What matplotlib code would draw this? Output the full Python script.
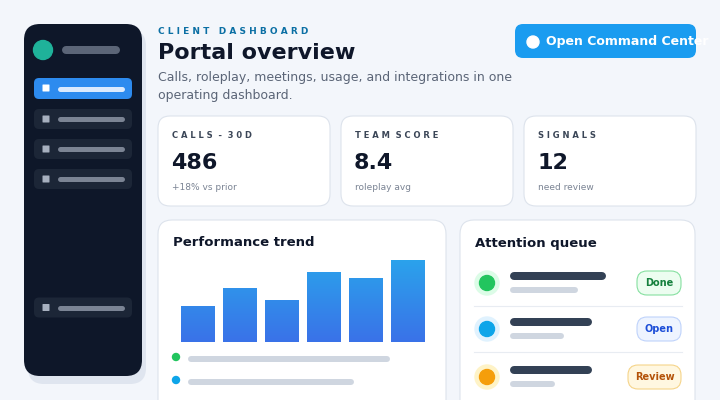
import matplotlib.pyplot as plt
from matplotlib.patches import FancyBboxPatch, Circle
import numpy as np

# data
bar_heights = [36, 54, 42, 70, 64, 82]
kpi_labels = ["CALLS - 30D", "TEAM SCORE", "SIGNALS"]
kpi_values = ["486", "8.4", "12"]
kpi_notes = ["+18% vs prior", "roleplay avg", "need review"]
queue_colors = ["#22c55e", "#0ea5e9", "#f59e0b"]
queue_halo = ["#dcfce7", "#e0f2fe", "#fef3c7"]
pill_text = ["Done", "Open", "Review"]
pill_fg = ["#15803d", "#1d4ed8", "#b45309"]
pill_bg = ["#ecfdf0", "#eef4ff", "#fff7e0"]
pill_edge = ["#86e0a0", "#bfd3fb", "#f5d48a"]

fig = plt.figure(figsize=(7.2, 4.0), dpi=100)
ax = fig.add_axes([0, 0, 1, 1])
ax.set_xlim(0, 720)
ax.set_ylim(400, 0)
ax.axis("off")
fig.patch.set_facecolor("#f3f6fb")

def rbox(x0, y0, x1, y1, r, fc, ec="none", lw=0, z=1):
    p = FancyBboxPatch((x0 + r, y0 + r), x1 - x0 - 2 * r, y1 - y0 - 2 * r,
                       boxstyle="round,pad=%g" % r, fc=fc, ec=ec, lw=lw, zorder=z,
                       mutation_aspect=1)
    ax.add_patch(p)
    return p

def rline(x0, x1, y, c, w=8, z=3):
    ax.plot([x0 + w / 2, x1 - w / 2], [y, y], color=c, lw=w * 0.72,
            solid_capstyle="round", zorder=z)

# sidebar
rbox(28, 30, 146, 384, 16, "#dfe5ef", z=0)
rbox(24, 24, 142, 376, 16, "#0e1729", z=1)
ax.add_patch(Circle((43, 50), 9.5, color="#1fb29a", zorder=2))
rline(62, 120, 50, "#5b6577", 8)
rbox(34, 78, 132, 99, 5, "#2d8bef", z=2)
ax.add_patch(FancyBboxPatch((43, 85), 6, 6, boxstyle="round,pad=0.5", fc="white", ec="none", zorder=3))
rline(57, 124, 88.5, "#dbeafe", 5)
for y in [119, 149, 179, 307.5]:
    rbox(34, y - 10, 132, y + 10, 5, "#1c2637", z=2)
    ax.add_patch(FancyBboxPatch((43, y - 3), 6, 6, boxstyle="round,pad=0.5", fc="#a7b0bf", ec="none", zorder=3))
    rline(57, 124, y, "#7b8494", 5)

# header
ax.text(158, 31, "C L I E N T   D A S H B O A R D", fontsize=6.5, fontweight="bold", color="#0b6fa4", va="center")
ax.text(158, 53, "Portal overview", fontsize=16, fontweight="bold", color="#0f172a", va="center")
ax.text(158, 78, "Calls, roleplay, meetings, usage, and integrations in one", fontsize=9, color="#5b6577", va="center")
ax.text(158, 95, "operating dashboard.", fontsize=9, color="#5b6577", va="center")

rbox(515, 24, 696, 58, 8, "#1a9cf0", z=2)
ax.add_patch(Circle((533, 42), 6, color="white", zorder=3))
ax.text(546, 42, "Open Command Center", fontsize=9, fontweight="bold", color="white", va="center", zorder=3)

# KPI cards
for i, x0 in enumerate([158, 341, 524]):
    rbox(x0, 116, x0 + 172, 206, 12, "white", "#dde3ec", 0.8, z=2)
    ax.text(x0 + 14, 135, " ".join(kpi_labels[i]).replace("   ", "  "), fontsize=6, fontweight="bold",
            color="#3b4657", va="center", zorder=3)
    ax.text(x0 + 13, 163, kpi_values[i], fontsize=16, fontweight="bold", color="#0f172a", va="center", zorder=3)
    ax.text(x0 + 14, 187, kpi_notes[i], fontsize=6.5, color="#7b8494", va="center", zorder=3)

# performance card
rbox(158, 220, 446, 420, 14, "white", "#dde3ec", 0.8, z=2)
ax.text(173, 243, "Performance trend", fontsize=9.5, fontweight="bold", color="#0f172a", va="center", zorder=3)
xs = 198 + 42 * np.arange(len(bar_heights))
bars = ax.bar(xs, [-h for h in bar_heights], bottom=342, width=34, color="#2f8fe8", zorder=3)
grad = np.linspace(0, 1, 100).reshape(-1, 1)
from matplotlib.colors import LinearSegmentedColormap
cm = LinearSegmentedColormap.from_list("g", ["#29a8ec", "#3a72e8"])
for b in bars:
    im = ax.imshow(grad, cmap=cm, aspect="auto", extent=(150, 450, 342, 250), zorder=4)
    im.set_clip_path(b)
ax.set_xlim(0, 720)
ax.set_ylim(400, 0)
ax.add_patch(Circle((176, 357), 3.5, color="#22c55e", zorder=3))
ax.add_patch(Circle((176, 380), 3.5, color="#0ea5e9", zorder=3))
rline(188, 390, 359, "#cfd6e0", 6)
rline(188, 354, 382, "#cfd6e0", 6)

# attention queue card
rbox(460, 220, 695, 420, 14, "white", "#dde3ec", 0.8, z=2)
ax.text(475, 243, "Attention queue", fontsize=9.5, fontweight="bold", color="#0f172a", va="center", zorder=3)
for i, y in enumerate([283, 329, 377]):
    ax.add_patch(Circle((487, y), 12, color=queue_halo[i], zorder=3))
    ax.add_patch(Circle((487, y), 7.5, color=queue_colors[i], zorder=4))
    rline(510, [606, 592, 592][i], y - 7, "#334155", 8)
    rline(510, [578, 564, 555][i], y + 7, "#cfd6e0", 6)
    px0 = 628 if pill_text[i] == "Review" else 637
    rbox(px0, y - 12, 681, y + 12, 10, pill_bg[i], pill_edge[i], 0.8, z=3)
    ax.text((px0 + 681) / 2, y, pill_text[i], fontsize=7, fontweight="bold", color=pill_fg[i],
            ha="center", va="center", zorder=4)
    if i < 2:
        ax.plot([474, 682], [y + 23, y + 23], color="#e8ecf2", lw=0.8, zorder=3)

fig.savefig("out.png", dpi=100, facecolor=fig.get_facecolor())
